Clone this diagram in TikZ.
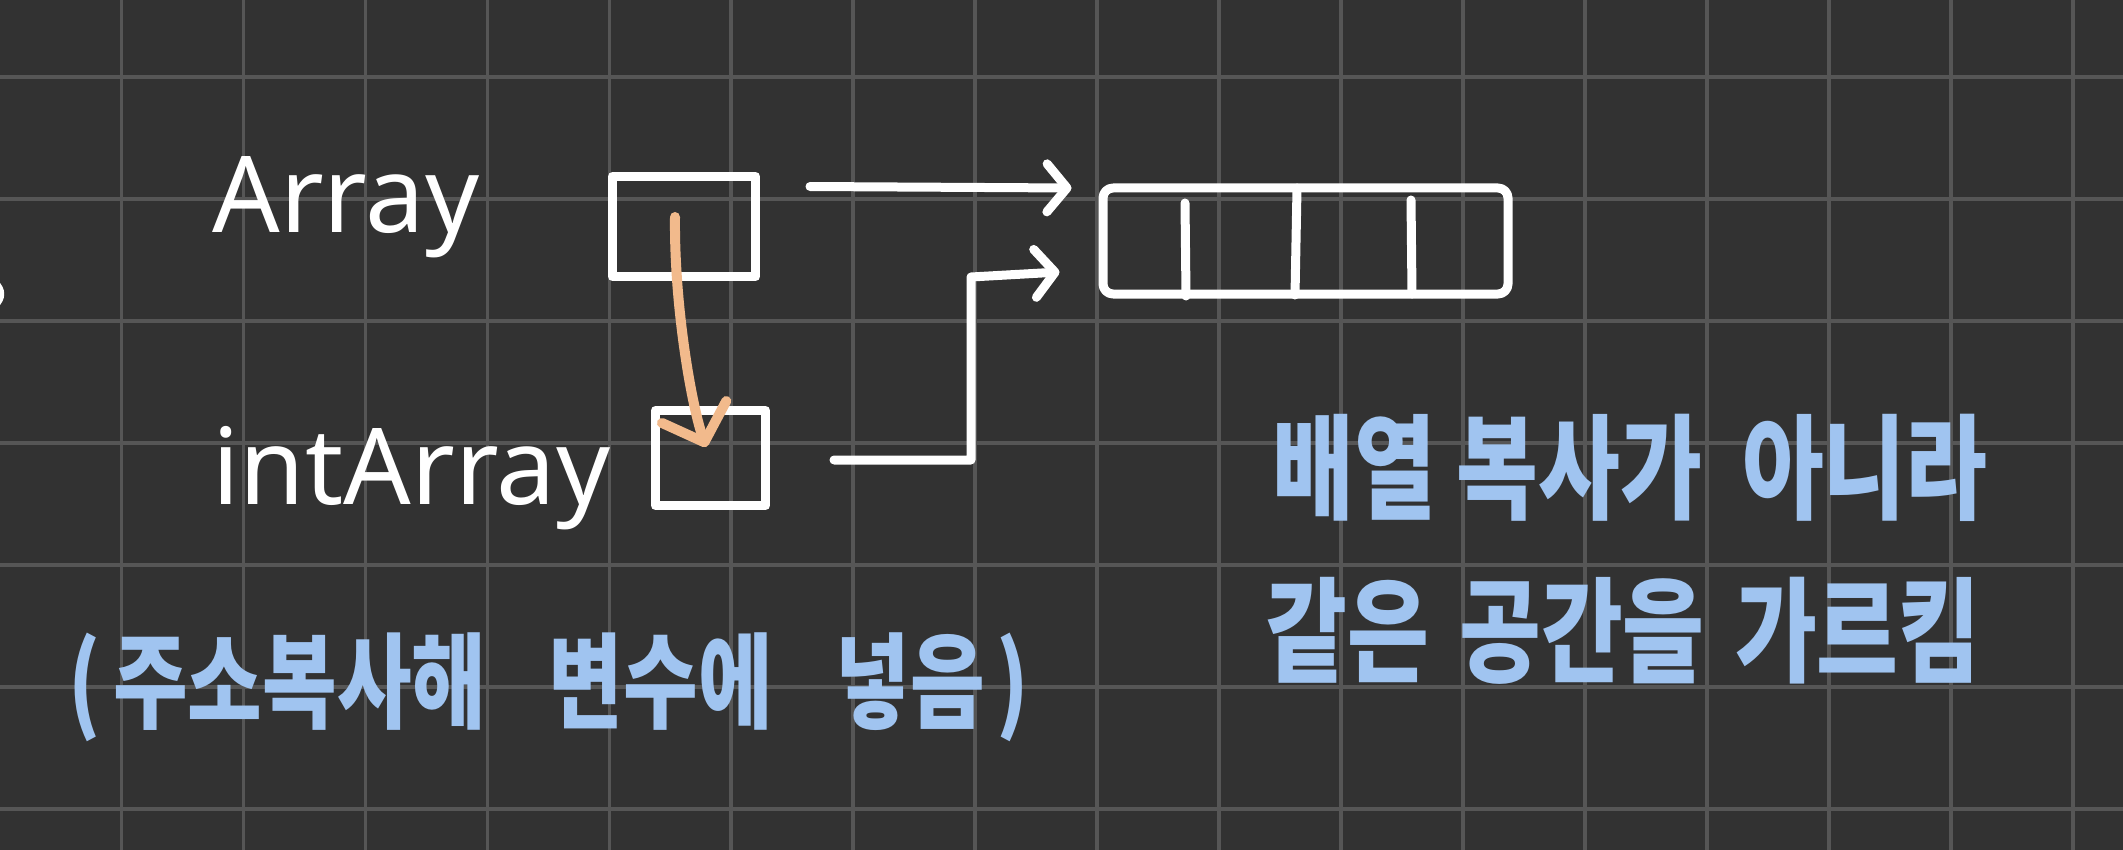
\documentclass[tikz,border=0pt]{standalone}
\usepackage{fontspec}
\setmainfont{Noto Sans}
\newfontfamily\kor[FakeStretch=0.78]{Noto Sans CJK KR}
\usepackage{xcolor}
\usetikzlibrary{arrows.meta,calc,positioning}
\definecolor{board}{RGB}{50,50,50}
\definecolor{gridgray}{RGB}{86,86,86}
\definecolor{peach}{RGB}{242,186,140}
\definecolor{sky}{RGB}{160,196,240}

\begin{document}
\begin{tikzpicture}[x=0.5pt,y=-0.5pt,
  ink/.style={white,line width=4.5pt,line cap=round,line join=round},
  ptr/.style={ink,-{Straight Barb[length=10pt,width=24pt,round]}},
  gridline/.style={gridgray,line width=1.8pt},
  varname/.style={white,font=\fontsize{53}{60}\selectfont,inner sep=0pt},
  memo/.style={sky,font=\kor\bfseries\fontsize{57}{66}\selectfont,inner sep=0pt}]
  % board
  \fill[board] (0,0) rectangle (2123,850);
  \useasboundingbox (0,0) rectangle (2123,850);

  % grid
  \foreach \i in {0,...,16} \draw[gridline] ({121.5+121.95*\i},0) -- ++(0,850);
  \foreach \j in {0,...,6} \draw[gridline] (0,{77+121.95*\j}) -- ++(2123,0);

  % cut-off stroke at the left edge
  \draw[ink,line width=3pt] (-4,283) .. controls (3,290) and (3,298) .. (-4,305);

  % variable names
  \node[varname,anchor=base west] (arrname) at (212,233) {Array};
  \node[varname,anchor=base west] (intname) at (212,504) {intArray};

  % reference boxes
  \node[ink,draw,inner sep=0pt,minimum width=71.5pt,minimum height=50pt] (arrbox) at (684,226.5) {};
  \node[ink,draw,inner sep=0pt,minimum width=55pt,minimum height=47.5pt] (intbox) at (710.5,458) {};

  % the array in memory
  \node[ink,draw,rounded corners=5pt,inner sep=0pt,minimum width=202.5pt,minimum height=53pt] (mem) at (1305.5,241) {};
  \draw[ink] (1185,203) -- (1186,296);
  \draw[ink] (1297,188) -- (1295,295);
  \draw[ink] (1411,200) -- (1412,294);

  % pointers
  \draw[ptr] ([xshift=25pt,yshift=20pt]arrbox.east) -- ([xshift=-13.5pt,yshift=26.5pt]mem.west);
  \coordinate (elbow) at (971,277);
  \draw[ptr] ([xshift=32pt,yshift=-1pt]intbox.east) -| (elbow) -- ([xshift=-19.5pt,yshift=-15.5pt]mem.west);

  % address copy
  \draw[peach,line width=5pt,line cap=round,line join=round,-{Straight Barb[length=16pt,width=34pt,round]}]
    ($(arrbox.center)+(-9,-9.5)$) .. controls (674,300) and (690,400) .. ($(intbox.center)+(-4.5,-11)$);

  % notes
  \node[memo,anchor=base] (note1) at (1630,510) {배열 복사가\hspace{10pt} 아니라};
  \node[memo,anchor=base] (note2) at (1623,673) {같은\hspace{5pt} 공간을\hspace{5pt} 가르킴};
  \node[memo,font=\kor\bfseries\fontsize{52}{60}\selectfont,anchor=base] (note3) at (549,720)
    {(\hspace{6pt}주소복사해\hspace{22pt} 변수에\hspace{22pt} 넣음\hspace{6pt})};
\end{tikzpicture}
\end{document}
